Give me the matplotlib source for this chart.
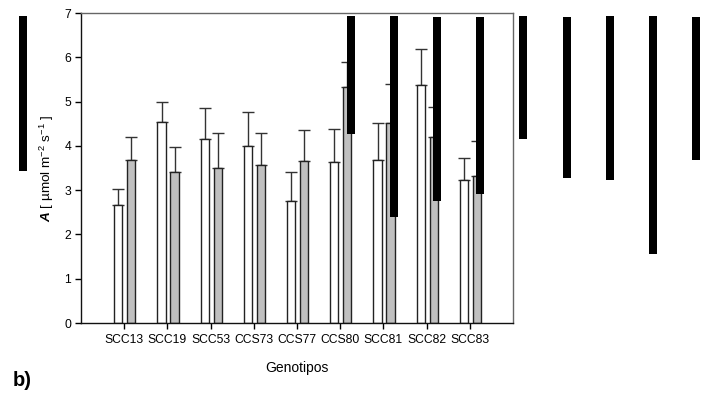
import matplotlib
matplotlib.use("Agg")
import matplotlib.pyplot as plt
import numpy as np

plt.rcParams['font.family'] = ['Liberation Sans', 'DejaVu Sans']
plt.rcParams['mathtext.fontset'] = 'custom'
plt.rcParams['mathtext.rm'] = 'Liberation Sans'
plt.rcParams['mathtext.it'] = 'Liberation Sans:italic'
plt.rcParams['mathtext.bf'] = 'Liberation Sans:bold'
plt.rcParams['mathtext.bfit'] = 'Liberation Sans:bold:italic'

genotypes = ["SCC13", "SCC19", "SCC53", "CCS73", "CCS77", "CCS80", "SCC81", "SCC82", "SCC83"]
white_vals = [2.66, 4.53, 4.15, 4.00, 2.76, 3.63, 3.69, 5.37, 3.23]
white_err_top = [3.02, 5.00, 4.86, 4.77, 3.42, 4.39, 4.52, 6.19, 3.72]
gray_vals = [3.67, 3.42, 3.49, 3.56, 3.66, 5.33, 4.51, 4.20, 3.33]
gray_err_top = [4.21, 3.97, 4.28, 4.29, 4.36, 5.90, 5.40, 4.88, 4.12]

# stray black bars (artifacts) in data units
black_x = [-2.34, 5.24, 6.24, 7.25, 8.24, 9.24, 10.24, 11.24, 12.24, 13.24]
black_bottom = [3.43, 4.27, 2.40, 2.76, 2.92, 4.16, 3.28, 3.23, 1.56, 3.69]
black_top = [6.93, 6.93, 6.93, 6.91, 6.91, 6.93, 6.91, 6.93, 6.93, 6.91]

fig = plt.figure(figsize=(7.07, 3.94), dpi=100)
ax = fig.add_axes([81/707, (394-323)/394, (513-81)/707, (323-13)/394])

x = np.arange(len(genotypes))
w = 0.19
xw = x - 0.135
xg = x + 0.165
we = np.array(white_err_top) - np.array(white_vals)
ge = np.array(gray_err_top) - np.array(gray_vals)

ax.bar(xw, white_vals, width=w, color='white', edgecolor='#222222', linewidth=1.0, zorder=2)
ax.bar(xg, gray_vals, width=w, color='#c0c0c0', edgecolor='#222222', linewidth=1.0, zorder=2)
ax.errorbar(xw, white_vals, yerr=[np.zeros_like(we), we], fmt='none', ecolor='#333333',
            elinewidth=1.0, capsize=4, capthick=1.0, zorder=1)
ax.errorbar(xg, gray_vals, yerr=[np.zeros_like(ge), ge], fmt='none', ecolor='#333333',
            elinewidth=1.0, capsize=4, capthick=1.0, zorder=1)

bh = np.array(black_top) - np.array(black_bottom)
ax.bar(black_x, bh, bottom=black_bottom, width=0.186, color='black', linewidth=0,
       clip_on=False, zorder=5)

ax.set_xlim(-1, 9)
ax.set_ylim(0, 7)
ax.set_xticks(x)
ax.set_xticklabels(genotypes, fontsize=8.7)
ax.set_yticks(range(8))
ax.tick_params(axis='y', labelsize=8.7, length=4, width=1, direction='out', pad=3)
ax.tick_params(axis='x', length=4, width=1, direction='out', pad=4)
for s in ['left', 'bottom']:
    ax.spines[s].set_color('#111111')
    ax.spines[s].set_linewidth(1.0)
for s in ['top', 'right']:
    ax.spines[s].set_color('#666666')
    ax.spines[s].set_linewidth(1.0)

ax.set_ylabel(r"$\mathbfit{A}$ [ µmol m$^{-2}$ s$^{-1}$ ]", fontsize=9.7)
ax.yaxis.set_label_coords(-25/432, 0.5)
ax.set_xlabel("Genotipos", fontsize=10, labelpad=11)

fig.text(13/707, 1 - 381/394, "b)", fontsize=14.5, fontweight='bold', va='center', ha='left')

fig.savefig("out.png", dpi=100)
